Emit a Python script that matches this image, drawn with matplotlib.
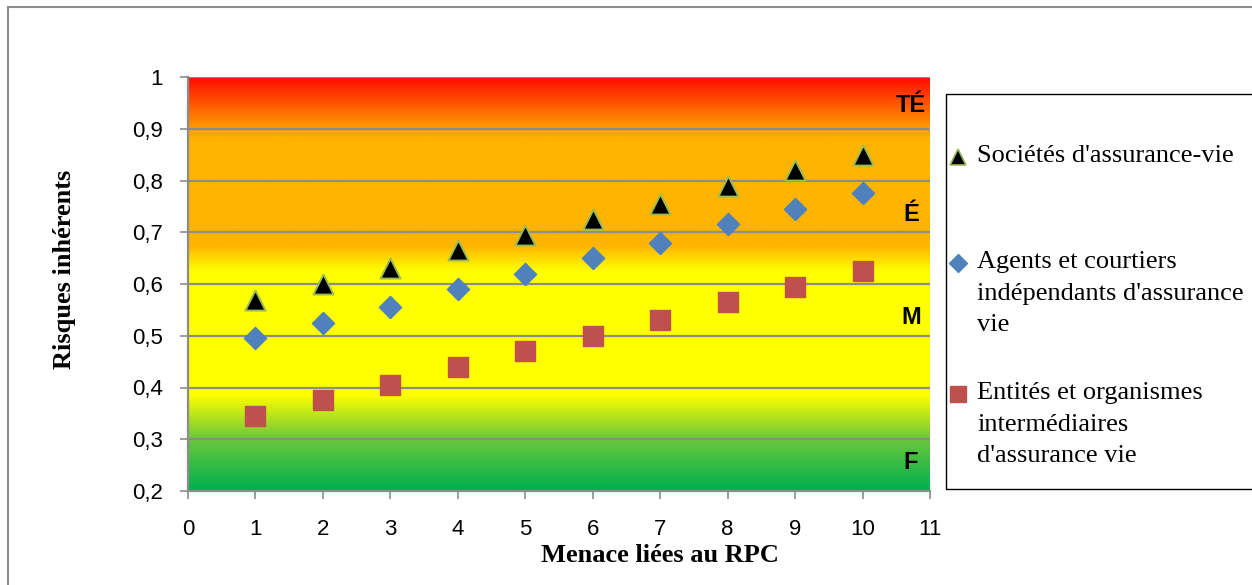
import matplotlib
matplotlib.use("Agg")
import matplotlib.pyplot as plt
import numpy as np
from matplotlib.colors import LinearSegmentedColormap
from matplotlib.patches import Rectangle
from matplotlib.lines import Line2D

# data
menaces = [1, 2, 3, 4, 5, 6, 7, 8, 9, 10]
societes = [0.57, 0.60, 0.63, 0.665, 0.695, 0.725, 0.755, 0.79, 0.82, 0.85]
agents = [0.495, 0.525, 0.555, 0.59, 0.62, 0.65, 0.68, 0.715, 0.745, 0.775]
entites = [0.345, 0.375, 0.405, 0.44, 0.47, 0.50, 0.53, 0.565, 0.595, 0.625]

noms = ["Sociétés d'assurance-vie",
        "Agents et courtiers\nindépendants d'assurance\nvie",
        "Entités et organismes\nintermédiaires\nd'assurance vie"]

niveaux = ["TÉ", "É", "M", "F"]
niveaux_y = [0.945, 0.735, 0.535, 0.255]

yticks = [0.2, 0.3, 0.4, 0.5, 0.6, 0.7, 0.8, 0.9, 1.0]
xticks = list(range(0, 12))

# background colour bands (value -> colour)
fond = [(0.20, "#00b050"), (0.30, "#6cc83a"), (0.385, "#ffff00"),
        (0.625, "#ffff00"), (0.675, "#ffb400"), (0.88, "#ffb400"),
        (0.90, "#ffa000"), (1.00, "#ff0f00")]

sans = ["Liberation Sans", "DejaVu Sans"]

fig = plt.figure(figsize=(12.52, 5.85), dpi=100)
ax = fig.add_axes([188 / 1252, 1 - 491 / 585, (930 - 188) / 1252, (491 - 77) / 585])

pos = [(v - 0.2) / 0.8 for v, c in fond]
cmap = LinearSegmentedColormap.from_list("fond", list(zip(pos, [c for v, c in fond])))
grad = np.linspace(0, 1, 400).reshape(-1, 1)
ax.imshow(grad, cmap=cmap, origin="lower", extent=[0, 11, 0.2, 1.0],
          aspect="auto", zorder=0, interpolation="bilinear")

for y in yticks:
    ax.axhline(y, color="#8c8c8c", lw=1.6, zorder=1)

tri = [(0, 1), (1, -1), (-1, -1), (0, 1)]
losange = [(0, -1), (1, 0), (0, 1), (-1, 0), (0, -1)]
rect = [(-1, -1), (1, -1), (1, 1), (-1, 1), (-1, -1)]
ax.plot(menaces, societes, ls="none", marker=tri, ms=14.5, mfc="black",
        mec="#9bbb59", mew=1.4, zorder=3)
ax.plot(menaces, agents, ls="none", marker=losange, ms=16, mfc="#4f81bd",
        mec="#4f81bd", zorder=3)
ax.plot(menaces, entites, ls="none", marker=rect, ms=14, mfc="#c0504d",
        mec="#c0504d", zorder=3)

for t, y in zip(niveaux, niveaux_y):
    ax.text(10.72, y, t, ha="center", va="center", fontsize=17,
            fontweight="bold", family=sans, zorder=4)

ax.set_xlim(0, 11)
ax.set_ylim(0.2, 1.0)
ax.set_xticks(xticks)
ax.set_yticks(yticks)
ax.set_yticklabels([f"{v:.1f}".replace(".", ",") if v < 1 else "1" for v in yticks])
for s in ["top", "right"]:
    ax.spines[s].set_visible(False)
for s in ["left", "bottom"]:
    ax.spines[s].set_color("#8c8c8c")
    ax.spines[s].set_linewidth(1.6)
ax.tick_params(axis="both", direction="out", length=6, width=1.2, color="#8c8c8c",
               labelsize=16)
ax.tick_params(axis="y", pad=12)
ax.tick_params(axis="x", pad=14)
for lab in ax.get_xticklabels() + ax.get_yticklabels():
    lab.set_family(sans)

fig.text(660 / 1252, 1 - 555 / 585, "Menace liées au RPC", ha="center", va="center",
         family="Liberation Serif", fontweight="bold", fontsize=19)
fig.text(65 / 1252, 1 - 269 / 585, "Risques inhérents", ha="center", va="center",
         rotation=90, family="Liberation Serif", fontweight="bold", fontsize=19)

# chart border
fig.add_artist(Rectangle((8 / 1252, -0.1), 1.1, 1 - 7 / 585 + 0.1,
                         transform=fig.transFigure, fill=False,
                         ec="#8c8c8c", lw=1.5))

# legend box
fig.add_artist(Rectangle((946 / 1252, 1 - 489 / 585), 0.3, (489 - 94) / 585,
                         transform=fig.transFigure, fill=False, ec="black", lw=1.0))
leg_y = [157, 263, 394]
leg_m = [dict(marker="^", mfc="black", mec="#9bbb59", ms=11, mew=1.2),
         dict(marker="D", mfc="#4f81bd", mec="#4f81bd", ms=9),
         dict(marker="s", mfc="#c0504d", mec="#c0504d", ms=11)]
for y, nom, m in zip(leg_y, noms, leg_m):
    fy = 1 - y / 585
    fig.add_artist(Line2D([958 / 1252], [fy], transform=fig.transFigure, ls="none", **m))
    fig.text(977 / 1252, fy + 12 / 585, nom, va="top", ha="left",
             family="Liberation Serif", fontsize=19, linespacing=1.56)

fig.savefig("out.png", dpi=100)
